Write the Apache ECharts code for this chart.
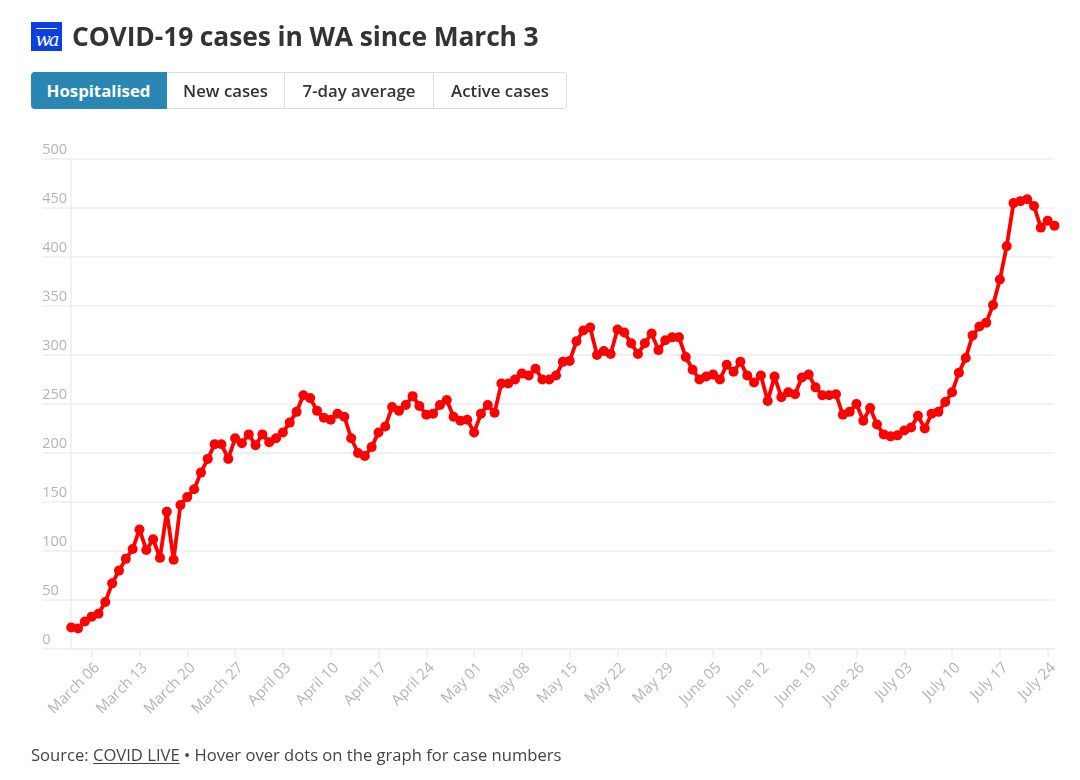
<!DOCTYPE html>
<html style="height: 100%">
<head>
<meta charset="utf-8">
<style>
	body { height: 100%; margin: 0; background: #fff; font-family: "Open Sans", sans-serif; position: relative; overflow: hidden; }
	#logo { position: absolute; left: 31px; top: 22px; width: 31px; height: 29px; background: #0a3fe0; color: #fff; font: italic 18px/35px "DejaVu Serif", serif; text-align: center; letter-spacing: -2px; }
	#logo:before { content: ""; position: absolute; left: 5px; right: 5px; top: 6px; height: 1px; background: #fff; }
	h1 { position: absolute; left: 72px; top: 17px; margin: 0; font-size: 26.4px; line-height: 38px; font-weight: 700; color: #333; letter-spacing: -0.1px; white-space: nowrap; }
	.btn { position: absolute; top: 72px; height: 35px; line-height: 35px; border: 1px solid #ddd; border-left: 0; text-align: center; font-size: 16.8px; font-weight: 600; color: #333; }
	#source { position: absolute; left: 31px; top: 743px; font-size: 16.6px; line-height: 24px; color: #444; white-space: nowrap; }
	#source u { text-underline-offset: 2px; }
	#container { position: absolute; left: 0; top: 0; width: 1080px; height: 780px; }
</style>
</head>
<body>
	<div id="container"></div>
	<div id="logo">wa</div>
	<h1>COVID-19 cases in WA since March 3</h1>
	<div class="btn" style="left:31px;width:135px;background:#2a86b3;color:#fff;border-color:#2a86b3;border-radius:4px 0 0 4px;font-weight:700">Hospitalised</div>
	<div class="btn" style="left:167px;width:117px">New cases</div>
	<div class="btn" style="left:285px;width:148px">7-day average</div>
	<div class="btn" style="left:434px;width:132px;border-radius:0 4px 4px 0">Active cases</div>
	<div id="source">Source: <u>COVID LIVE</u> • Hover over dots on the graph for case numbers</div>

	<script src="https://cdn.jsdelivr.net/npm/echarts@6/dist/echarts.min.js"></script>
	<script type="text/javascript">
		// days shown per month, first day is March 3
		var months = ['March', 'April', 'May', 'June', 'July'];
		var firstDay = [3, 1, 1, 1, 1];
		var lastDay = [31, 30, 31, 30, 25];

		var yTicks = [0, 50, 100, 150, 200, 250, 300, 350, 400, 450, 500];

		// hospitalised
		var hospitalised = [
			22, 21, 28, 33, 36, 48, 67, 80, 92, 102,
			122, 101, 112, 93, 140, 91, 147, 155, 163, 180,
			194, 209, 209, 194, 215, 210, 219, 208, 219, 211,
			215, 221, 231, 242, 259, 256, 243, 236, 234, 240,
			237, 215, 200, 197, 206, 221, 227, 247, 243, 249,
			258, 248, 239, 240, 249, 254, 237, 233, 234, 221,
			240, 249, 241, 271, 271, 275, 281, 279, 286, 275,
			275, 279, 293, 294, 314, 325, 328, 300, 304, 301,
			326, 323, 312, 301, 312, 322, 305, 315, 318, 318,
			298, 285, 275, 278, 280, 275, 290, 283, 293, 279,
			272, 279, 253, 278, 257, 262, 260, 277, 280, 267,
			259, 259, 260, 239, 242, 250, 233, 246, 229, 219,
			217, 218, 223, 226, 238, 225, 240, 242, 252, 262,
			282, 297, 320, 329, 333, 351, 377, 411, 455, 457,
			459, 452, 430, 437, 432
		];

		var categories = [];
		for (var m = 0; m < months.length; m++) {
			for (var d = firstDay[m]; d <= lastDay[m]; d++) {
				categories.push(months[m] + ' ' + (d < 10 ? '0' + d : d));
			}
		}

		function isWeekTick(i) {
			return (i - 3) % 7 == 0;
		}

		var myChart = echarts.init(document.getElementById('container'));
		myChart.setOption({
			animation: false,
			grid: { left: 71.2, right: 25.5, top: 159, height: 490 },
			xAxis: {
				type: 'category',
				boundaryGap: false,
				data: categories,
				axisLine: { lineStyle: { color: '#eeeeee', width: 1.5 } },
				axisTick: { interval: function (i) { return isWeekTick(i); }, length: 8, lineStyle: { color: '#eeeeee', width: 1.5 } },
				axisLabel: {
					interval: function (i) { return isWeekTick(i); },
					rotate: 45,
					margin: 22,
					color: '#b4b4b4',
					fontFamily: 'Open Sans',
					fontSize: 15,
					padding: [0, -8, 0, 0],
					hideOverlap: false
				}
			},
			yAxis: {
				type: 'value',
				min: yTicks[0],
				max: yTicks[yTicks.length - 1],
				interval: 50,
				axisLine: { show: true, lineStyle: { color: '#eeeeee', width: 1.5 } },
				axisTick: { show: true, length: 29, lineStyle: { color: '#eeeeee', width: 1.5 } },
				splitLine: { lineStyle: { color: '#eeeeee', width: 1.5 } },
				axisLabel: {
					margin: 29,
					align: 'left',
					verticalAlign: 'bottom',
					color: '#b4b4b4',
					fontFamily: 'Open Sans',
					fontSize: 14.5,
					padding: [0, 0, 2, 0]
				}
			},
			series: [{
				name: 'Hospitalised',
				type: 'line',
				data: hospitalised,
				clip: false,
				symbol: 'circle',
				symbolSize: 10,
				showAllSymbol: true,
				lineStyle: { color: '#ff0000', width: 3.8 },
				itemStyle: { color: '#ff0000' }
			}]
		});
	</script>
</body>
</html>
